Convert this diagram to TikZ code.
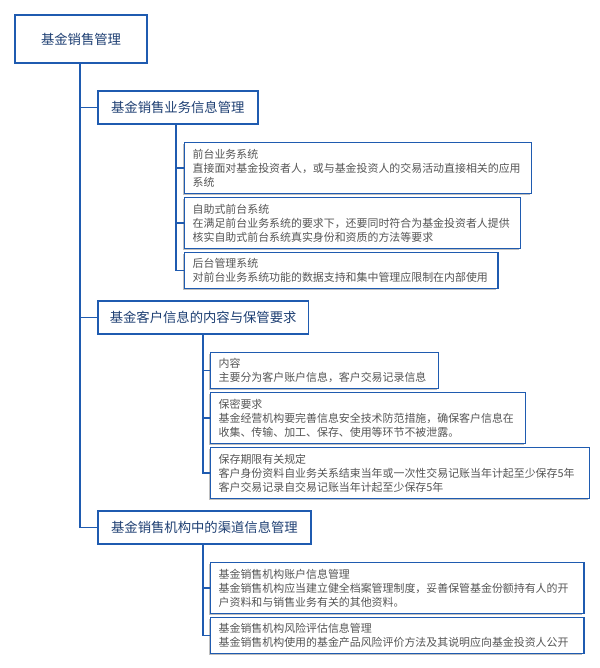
\documentclass[tikz,border=0pt]{standalone}
\usepackage{fontspec}
\setmainfont{Noto Sans CJK SC}
\usetikzlibrary{shadows}
\definecolor{mapblue}{HTML}{1F5BB0}
\definecolor{leaftext}{HTML}{555555}
\definecolor{topictext}{HTML}{1E3F73}
\tikzset{
  rootbox/.style={draw=mapblue, line width=1.5pt, fill=white, anchor=north west, inner sep=0pt,
    minimum width=99pt, minimum height=36pt, font=\fontsize{10}{12}\selectfont, text=topictext},
  topicbox/.style={draw=mapblue, line width=1.2pt, fill=white, anchor=north west, inner sep=0pt,
    minimum height=25pt, font=\fontsize{10}{12}\selectfont, text=topictext},
  leafbox/.style={draw=mapblue, line width=1pt, fill=white, anchor=north west, align=left,
    inner xsep=6pt, inner ysep=2pt, font=\fontsize{8.2}{10.5}\selectfont, text=leaftext,
    drop shadow={shadow xshift=-1.2pt, shadow yshift=-1.2pt, fill=black!25, opacity=1}},
  conn/.style={draw=mapblue, line width=0.9pt}
}
\begin{document}
\begin{tikzpicture}[x=0.75pt,y=-0.75pt]
  \useasboundingbox[fill=white] (0,0) rectangle (600,668);
  \node[rootbox] (root) at (14,14) {基金销售管理};
  % first topic
  \node[topicbox, minimum width=120pt] (t1) at (97,90) {基金销售业务信息管理};
  \node[leafbox, text width=248pt, minimum height=38pt] (l11) at (184,142)
    {前台业务系统\\直接面对基金投资者人，或与基金投资人的交易活动直接相关的应用\\系统};
  \node[leafbox, text width=240pt, minimum height=38pt] (l12) at (184,197)
    {自助式前台系统\\在满足前台业务系统的要求下，还要同时符合为基金投资者人提供\\核实自助式前台系统真实身份和资质的方法等要求};
  \node[leafbox, text width=223pt, minimum height=27pt] (l13) at (184,252)
    {后台管理系统\\对前台业务系统功能的数据支持和集中管理应限制在内部使用};
  % second topic
  \node[topicbox, minimum width=158pt] (t2) at (97,300) {基金客户信息的内容与保管要求};
  \node[leafbox, text width=159pt, minimum height=27pt] (l21) at (210,352)
    {内容\\主要分为客户账户信息，客户交易记录信息};
  \node[leafbox, text width=224pt, minimum height=38pt] (l22) at (210,392)
    {保密要求\\基金经营机构要完善信息安全技术防范措施，确保客户信息在\\收集、传输、加工、保存、使用等环节不被泄露。};
  \node[leafbox, text width=272pt, minimum height=38pt] (l23) at (210,447)
    {保存期限有关规定\\客户身份资料自业务关系结束当年或一次性交易记账当年计起至少保存5年\\客户交易记录自交易记账当年计起至少保存5年};
  % third topic
  \node[topicbox, minimum width=160pt] (t3) at (97,510) {基金销售机构中的渠道信息管理};
  \node[leafbox, text width=268pt, minimum height=38pt] (l31) at (210,562)
    {基金销售机构账户信息管理\\基金销售机构应当建立健全档案管理制度，妥善保管基金份额持有人的开\\户资料和与销售业务有关的其他资料。};
  \node[leafbox, text width=268pt, minimum height=27pt] (l32) at (210,617)
    {基金销售机构风险评估信息管理\\基金销售机构使用的基金产品风险评价方法及其说明应向基金投资人公开};
  % connectors
  \foreach \t in {t1,t2,t3}
    \draw[conn] ([xshift=49.5pt]root.south west) |- (\t.west);
  \foreach \l in {l11,l12,l13}
    \draw[conn] ([xshift=59.25pt]t1.south west) |- (\l.west);
  \foreach \l in {l21,l22,l23}
    \draw[conn] ([xshift=79.5pt]t2.south west) |- (\l.west);
  \foreach \l in {l31,l32}
    \draw[conn] ([xshift=79.5pt]t3.south west) |- (\l.west);
\end{tikzpicture}
\end{document}
